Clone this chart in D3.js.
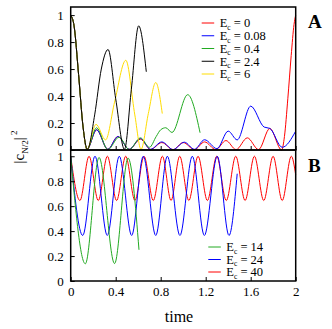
<!doctype html>
<html>
<head>
<script src="https://d3js.org/d3.v7.min.js"></script>
<style>
  body { margin: 0; background: #fff; }
  svg { display: block; font-family: "Liberation Serif", "DejaVu Serif", serif; }
  .axis path { display: none; }
  .axis line { stroke: #000; }
  .axis text { font-family: "Liberation Serif", serif; font-size: 13px; fill: #000; }
</style>
</head>
<body>
<script>
// panel A: E_c = 0, 0.08, 0.4, 2.4, 6   (time, |c_N/2|^2)
var redA = [[0,1],[0.03,0.92],[0.07,0.56],[0.11,0.17],[0.145,0.005],[0.23,0.15],[0.33,0.005],[0.42,0.1],
  [0.52,0.005],[0.62,0.08],[0.71,0.004],[0.81,0.055],[0.91,0.003],[1.0,0.055],[1.1,0.003],[1.19,0.06],
  [1.29,0.003],[1.38,0.07],[1.47,0.003],[1.57,0.09],[1.67,0.003],[1.77,0.16],[1.875,0.0],[1.9,0.1],
  [1.93,0.38],[1.96,0.7],[1.985,0.93],[2.0,1.0]];
var blueA = [[0,1],[0.03,0.92],[0.07,0.56],[0.11,0.17],[0.145,0.005],[0.23,0.15],[0.33,0.005],[0.42,0.1],
  [0.52,0.005],[0.62,0.085],[0.71,0.005],[0.81,0.06],[0.91,0.003],[1.01,0.058],[1.1,0.005],[1.19,0.076],
  [1.3,0.01],[1.40,0.14],[1.48,0.075],[1.60,0.325],[1.72,0.17],[1.77,0.16],[1.88,0.02],[2.0,0.14]];
var greenA = [[0,1],[0.03,0.92],[0.07,0.56],[0.11,0.17],[0.145,0.005],[0.23,0.165],[0.33,0.003],[0.43,0.095],
  [0.52,0.003],[0.62,0.09],[0.70,0.02],[0.76,0.1],[0.80,0.15],[0.845,0.165],[0.90,0.13],[1.04,0.41],[1.15,0.128]];
var blackA = [[0,1],[0.03,0.92],[0.07,0.56],[0.11,0.17],[0.148,0.005],[0.213,0.26],[0.272,0.6],[0.332,0.745],
  [0.40,0.38],[0.478,0.005],[0.539,0.45],[0.604,0.92],[0.672,0.58]];
var yellowA = [[0,1],[0.03,0.92],[0.07,0.56],[0.11,0.17],[0.145,0.005],[0.225,0.19],[0.31,0.075],[0.39,0.355],
  [0.49,0.665],[0.57,0.26],[0.625,0.005],[0.69,0.27],[0.756,0.5],[0.814,0.27]];

// panel B: E_c = 14, 24, 40
var greenB = [[0,1],[0.13,0.138],[0.252,0.99],[0.39,0.14],[0.51,0.985],[0.607,0.25]];
var blueB = [[0,1],[0.107,0.365],[0.216,1],[0.325,0.365],[0.432,1],[0.542,0.365],[0.645,1],[0.756,0.365],
  [0.859,1],[0.971,0.365],[1.081,1],[1.188,0.365],[1.303,1],[1.407,0.365],[1.48,0.86]];
var redB = [[0,1],[0.082,0.645],[0.163,1],[0.245,0.645],[0.326,1],[0.408,0.645],[0.489,1],[0.571,0.645],
  [0.652,1],[0.734,0.645],[0.815,1],[0.892,0.645],[0.969,1],[1.05,0.645],[1.132,1],[1.215,0.645],
  [1.298,1],[1.383,0.645],[1.467,1],[1.55,0.645],[1.633,1],[1.716,0.645],[1.799,1],[1.88,0.645],
  [1.961,1],[2.0,0.85]];

var legendA = ["0", "0.08", "0.4", "2.4", "6"];
var legendB = ["14", "24", "40"];
var colorsA = ["#ff0000", "#0000ff", "#22aa22", "#000000", "#ffdd00"];
var colorsB = ["#22aa22", "#0000ff", "#ff0000"];
var yTicks = [0, 0.2, 0.4, 0.6, 0.8, 1];
var xTicks = [0, 0.4, 0.8, 1.2, 1.6, 2];

var W = 332, H = 329;
var svg = d3.select("body").append("svg").attr("width", W).attr("height", H);

var x = d3.scaleLinear().domain([0, 2]).range([70.7, 295.7]);
var yA = d3.scaleLinear().domain([0, 1.06]).range([150, 7]);
var yB = d3.scaleLinear().domain([0, 1.05]).range([281, 150]);

function lineFor(y) {
  return d3.line().x(function(d) { return x(d[0]); }).y(function(d) { return y(d[1]); }).curve(d3.curveMonotoneX);
}

// curves (black drawn last so the shared start looks dark, as in the original)
var seriesA = [redA, blueA, greenA, yellowA, blackA];
var colA = ["#ff0000", "#0000ff", "#22aa22", "#ffdd00", "#000000"];
seriesA.forEach(function(s, i) {
  svg.append("path").datum(s).attr("d", lineFor(yA)).attr("fill", "none")
    .attr("stroke", colA[i]).attr("stroke-width", 1);
});
var seriesB = [redB, blueB, greenB];
var colB = ["#ff0000", "#0000ff", "#22aa22"];
seriesB.forEach(function(s, i) {
  svg.append("path").datum(s).attr("d", lineFor(yB)).attr("fill", "none")
    .attr("stroke", colB[i]).attr("stroke-width", 1);
});

// axes
var axA = svg.append("g").attr("class", "axis").attr("transform", "translate(70.7,0)")
  .call(d3.axisLeft(yA).tickValues(yTicks).tickFormat(d3.format("")).tickSizeInner(-4).tickSizeOuter(0).tickPadding(7));
axA.selectAll(".tick").filter(function(d) { return d === 0; }).select("text").attr("dy", "-0.32em");

svg.append("g").attr("class", "axis").attr("transform", "translate(70.7,0)")
  .call(d3.axisLeft(yB).tickValues(yTicks).tickFormat(d3.format("")).tickSizeInner(-4).tickSizeOuter(0).tickPadding(7));

svg.append("g").attr("class", "axis").attr("transform", "translate(0,150)")
  .call(d3.axisBottom(x).tickValues(xTicks).tickFormat("").tickSizeInner(-4).tickSizeOuter(0));

svg.append("g").attr("class", "axis").attr("transform", "translate(0,281)")
  .call(d3.axisBottom(x).tickValues(xTicks).tickFormat(d3.format("")).tickSizeInner(-4).tickSizeOuter(0).tickPadding(6));

// frames
svg.append("rect").attr("x", x(0)).attr("y", yA.range()[1]).attr("width", x(2) - x(0))
  .attr("height", yA.range()[0] - yA.range()[1]).attr("fill", "none").attr("stroke", "#000").attr("stroke-width", 1.5);
svg.append("rect").attr("x", x(0)).attr("y", yB.range()[1]).attr("width", x(2) - x(0))
  .attr("height", yB.range()[0] - yB.range()[1]).attr("fill", "none").attr("stroke", "#000").attr("stroke-width", 1.5);

// legends
function legend(labels, colors, x0, y0, dy) {
  labels.forEach(function(l, i) {
    var yy = y0 + i * dy;
    svg.append("line").attr("x1", x0).attr("x2", x0 + 12.5).attr("y1", yy).attr("y2", yy)
      .attr("stroke", colors[i]).attr("stroke-width", 1);
    var t = svg.append("text").attr("x", x0 + 18).attr("y", yy + 4.3).attr("font-size", 12.5);
    t.append("tspan").text("E");
    t.append("tspan").attr("font-size", 7.5).attr("dy", 2.5).text("c");
    t.append("tspan").attr("dy", -2.5).text(" = " + l);
  });
}
legend(legendA, colorsA, 201.7, 23, 12.75);
legend(legendB, colorsB, 208.3, 247, 12.5);

// panel letters
svg.append("text").attr("x", 308).attr("y", 28.3).attr("font-size", 19).attr("font-weight", "bold").text("A");
svg.append("text").attr("x", 308).attr("y", 171.7).attr("font-size", 19).attr("font-weight", "bold").text("B");

// axis titles
svg.append("text").attr("x", 179).attr("y", 321.5).attr("text-anchor", "middle").attr("font-size", 16).text("time");
var yl = svg.append("text").attr("transform", "translate(24,147) rotate(-90)").attr("text-anchor", "middle").attr("font-size", 15);
yl.append("tspan").text("|c");
yl.append("tspan").attr("font-size", 9).attr("dy", 4).text("N/2");
yl.append("tspan").attr("dy", -4).text("|");
yl.append("tspan").attr("font-size", 9).attr("dy", -7).text(" 2");
</script>
</body>
</html>
